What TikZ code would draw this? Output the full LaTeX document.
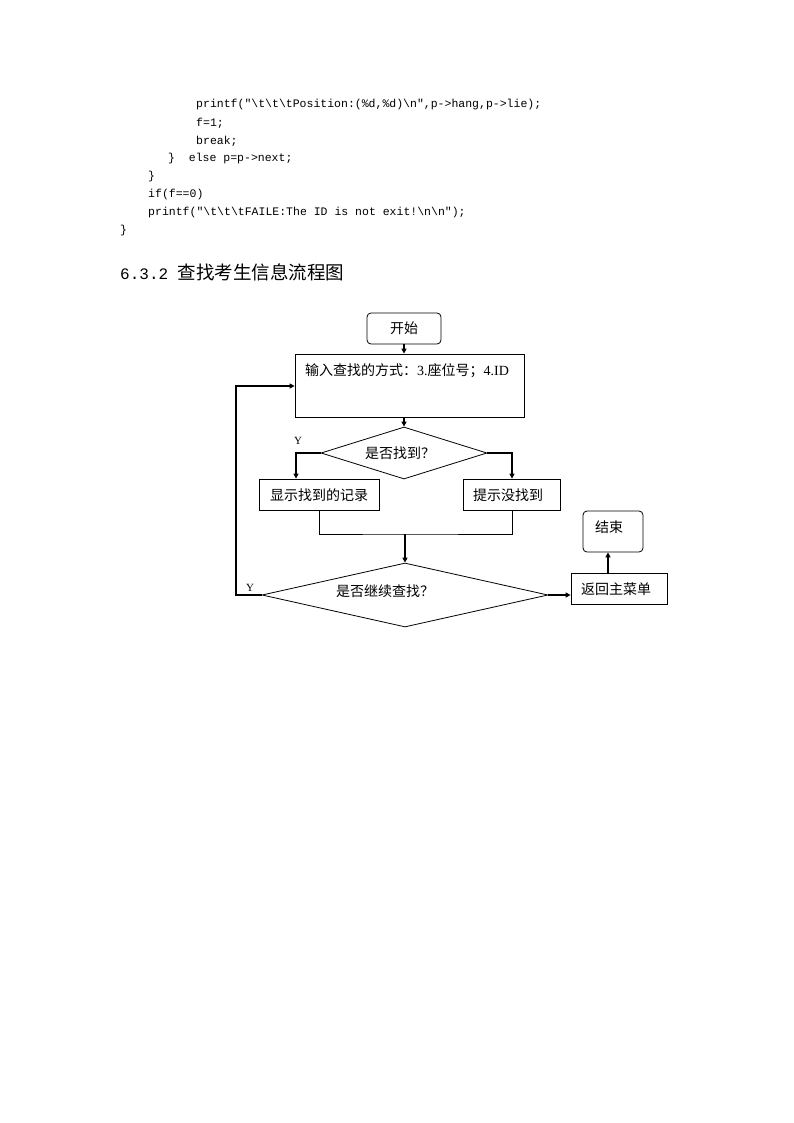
\documentclass[tikz,border=0pt]{standalone}
\usepackage{fontspec}
\setmainfont{Liberation Serif}
\setmonofont{Liberation Mono}
\newfontfamily\cjk{Noto Sans CJK SC}
\usetikzlibrary{arrows.meta,shapes.geometric}
\newcommand{\bs}{\textbackslash{}}
\begin{document}
\begin{tikzpicture}[x=1pt,y=-1pt,
  code/.style={anchor=west,inner sep=0pt,font=\fontsize{11.5}{13}\ttfamily},
  box/.style={draw,line width=0.8pt,inner sep=0pt},
  rbox/.style={box,rounded corners=4pt},
  dia/.style={draw,line width=0.8pt,diamond,inner sep=0pt},
  lbl/.style={inner sep=0pt,font=\fontsize{14}{16}\cjk},
  ylbl/.style={inner sep=0pt,font=\fontsize{11}{12}\selectfont},
  conn/.style={line width=1.6pt},
  arr/.style={conn,-{Triangle[length=5pt,width=5pt]}}]
\useasboundingbox (0,0) rectangle (794,1123);
% code
\node[code] (c1) at (196,105) {printf("\bs t\bs t\bs tPosition:(\%d,\%d)\bs n",p->hang,p->lie);};
\node[code] (c2) at (196,123) {f=1;};
\node[code] (c3) at (196,141) {break;};
\node[code] (c4) at (168,159) {\}~~else p=p->next;};
\node[code] (c5) at (148,177) {\}};
\node[code] (c6) at (148,195) {if(f==0)};
\node[code] (c7) at (148,213) {printf("\bs t\bs t\bs tFAILE:The ID is not exit!\bs n\bs n");};
\node[code] (c8) at (120,231) {\}};
% heading
\node[anchor=west,inner sep=0pt] (h) at (120,272) {{\fontsize{16}{18}\ttfamily 6.3.2 }{\fontsize{18.5}{20}\cjk 查找考生信息流程图}};
% flowchart
\node[rbox,minimum width=74pt,minimum height=31pt] (start) at (404,328.5) {};
\node[lbl] (startt) at (404,328) {开始};
\node[box,minimum width=229pt,minimum height=63pt] (input) at (409.5,385.5) {};
\node[lbl,anchor=west] (inputt) at (305,371) {输入查找的方式：{\fontsize{14}{16}\rmfamily 3.}座位号；{\fontsize{14}{16}\rmfamily 4.ID}};
\node[dia,minimum width=166pt,minimum height=52pt] (d1) at (404,453) {};
\node[lbl] (d1t) at (400,453) {是否找到？};
\node[box,minimum width=120pt,minimum height=31pt] (show) at (319,494.5) {};
\node[lbl] (showt) at (319,495) {显示找到的记录};
\node[box,minimum width=97pt,minimum height=31pt] (none) at (511.5,494.5) {};
\node[lbl] (nonet) at (508,495) {提示没找到};
\node[dia,minimum width=286pt,minimum height=64pt] (d2) at (405,595) {};
\node[lbl] (d2t) at (385,591) {是否继续查找？};
\node[box,minimum width=96pt,minimum height=31pt] (ret) at (619,588.5) {};
\node[lbl] (rett) at (616,589) {返回主菜单};
\node[rbox,minimum width=60pt,minimum height=41pt] (end) at (613,531.5) {};
\node[lbl] (endt) at (609,527) {结束};
\node[ylbl] (y1) at (298,441) {Y};
\node[ylbl] (y2) at (250,588) {Y};
\coordinate (join) at (405,534);
% connectors
\draw[arr] (start.south) -- (input.north -| start.south);
\draw[arr] (input.south -| d1.north) -- (d1.north);
\draw[arr] (d1.west) -| (show.north -| 296,0);
\draw[arr] (d1.east) -| (none.north -| 512,0);
\draw[line width=0.8pt] (show.south) |- (join) -| (none.south -| 512,0);
\draw[arr] (join) -- (d2.north);
\draw[arr] (d2.east) -- (ret.west |- d2.east);
\draw[arr] (ret.north -| 608,0) -- (end.south -| 608,0);
\draw[arr] (d2.west) -- (236,595) -- (236,386) -- (input.west |- 0,386);
\end{tikzpicture}
\end{document}
